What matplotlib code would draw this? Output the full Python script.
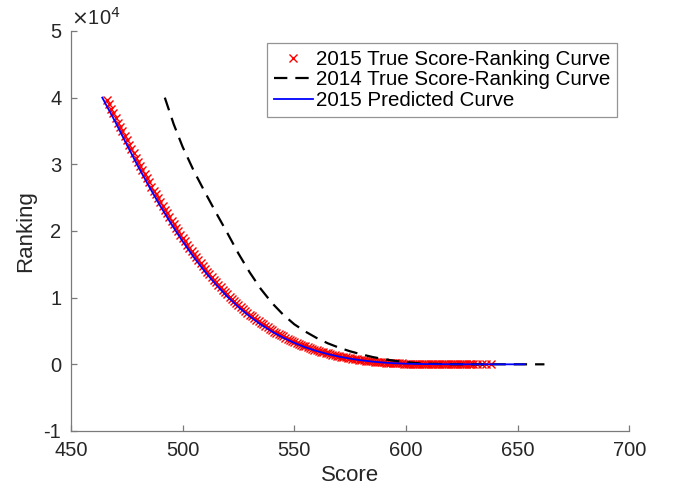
# -*- coding: utf-8 -*-

# 2015 / 2014 score-ranking curves and the 2015 predicted curve

import matplotlib
matplotlib.use('Agg')
import matplotlib.pyplot as plt
from matplotlib.ticker import FuncFormatter

plt.rcParams['font.family'] = ['Liberation Sans', 'DejaVu Sans']

# 2015 true score-ranking points
score_2015 = list(range(466, 631)) + [632, 634, 636, 638]
rank_2015 = [
    39660, 38980, 38300, 37620, 36940, 36260, 35590, 34930, 34270, 33610,
    32950, 32280, 31640, 31000, 30360, 29720, 29095, 28490, 27880, 27270,
    26660, 26060, 25480, 24900, 24320, 23740, 23180, 22630, 22090, 21540,
    21000, 20480, 19970, 19460, 18950, 18440, 17950, 17475, 17005, 16535,
    16065, 15615, 15185, 14755, 14325, 13895, 13485, 13095, 12705, 12315,
    11925, 11555, 11205, 10855, 10505, 10155, 9825, 9515, 9205, 8895,
    8585, 8293, 8018, 7743, 7468, 7193, 6935, 6695, 6455, 6215,
    5975, 5750, 5540, 5330, 5120, 4910, 4715, 4535, 4355, 4175,
    3995, 3827, 3672, 3517, 3362, 3207, 3065, 2935, 2805, 2675,
    2545, 2426, 2318, 2210, 2102, 1994, 1895, 1805, 1715, 1625,
    1535, 1453, 1379, 1305, 1231, 1157, 1090, 1030, 970, 910,
    850, 796, 748, 700, 652, 604, 562, 525, 488, 451,
    414, 381, 353, 325, 297, 269, 245, 225, 205, 185,
    165, 148, 135, 122, 109, 96, 86, 79, 72, 65,
    58, 52, 47, 42, 37, 33, 31, 29, 27, 25,
    23, 21, 19, 17, 15, 13, 12, 11, 10, 9,
    8, 7, 6, 6, 5, 4, 3, 2, 1,
]

# 2014 true curve
score_2014 = [492, 496, 500, 505, 510, 515, 520, 525, 530, 535, 540, 545,
              550, 555, 560, 565, 570, 575, 580, 585, 590, 595, 600, 605,
              610, 620, 630, 662]
rank_2014 = [40000, 36000, 32600, 29000, 25800, 22700, 19700, 16600, 13800,
             11300, 9200, 7450, 6000, 4900, 3950, 3150, 2500, 1950, 1500,
             1100, 780, 520, 320, 170, 80, 15, 3, 0]

# 2015 predicted curve
score_pred = [464, 470, 475, 480, 485, 490, 495, 500, 505, 510, 515, 520,
              525, 530, 535, 540, 545, 550, 555, 560, 565, 570, 575, 580,
              585, 590, 595, 600, 605, 610, 620, 630, 640, 653]
rank_pred = [40000, 36250, 32920, 29700, 26640, 23730, 21000, 18430, 16060,
             13890, 11920, 10150, 8580, 7190, 5975, 4910, 3995, 3210, 2545,
             1995, 1535, 1155, 850, 605, 410, 265, 160, 92, 55, 30, 10, 3,
             1, 0]

labels = ['2015 True Score-Ranking Curve', '2014 True Score-Ranking Curve',
          '2015 Predicted Curve']

fig = plt.figure(figsize=(6.75, 4.91), dpi=100)
ax = fig.add_axes([0.1052, 0.1222, 0.8271, 0.8148])

ax.plot(score_2015, rank_2015, 'x', color='red', markersize=5.5,
        markeredgewidth=1.0, label=labels[0])
ax.plot(score_2014, rank_2014, '--', color='black', linewidth=1.6,
        dashes=(6, 3.6), label=labels[1])
ax.plot(score_pred, rank_pred, '-', color='blue', linewidth=1.3,
        label=labels[2])

ax.set_xlim(450, 700)
ax.set_ylim(-10000, 50000)
ax.set_xticks([450, 500, 550, 600, 650, 700])
ax.set_yticks([-10000, 0, 10000, 20000, 30000, 40000, 50000])
ax.yaxis.set_major_formatter(FuncFormatter(lambda v, p: '%d' % round(v / 1e4)))

# matlab look: box off, ticks inside
for side in ['top', 'right']:
    ax.spines[side].set_visible(False)
for side in ['left', 'bottom']:
    ax.spines[side].set_color('#7a7a7a')
    ax.spines[side].set_linewidth(0.9)
ax.tick_params(direction='in', length=4, width=0.9, color='#7a7a7a',
               labelsize=14.5, labelcolor='#262626', pad=7)

ax.set_xlabel('Score', fontsize=16, color='#262626', labelpad=4)
ax.set_ylabel('Ranking', fontsize=16, color='#262626', labelpad=5)

ax.text(0.0, 1.005, '$\\times$10$^{4}$', transform=ax.transAxes,
        fontsize=14.5, color='#262626', ha='left', va='bottom')

leg = ax.legend(loc='upper right', bbox_to_anchor=(0.978, 0.97),
                borderaxespad=0, fontsize=14.8, frameon=True, fancybox=False,
                handlelength=1.9, handletextpad=0.15, labelspacing=0.08,
                borderpad=0.33)
leg.get_frame().set_edgecolor('#7a7a7a')
leg.get_frame().set_linewidth(0.9)

plt.savefig('out.png', dpi=100)
